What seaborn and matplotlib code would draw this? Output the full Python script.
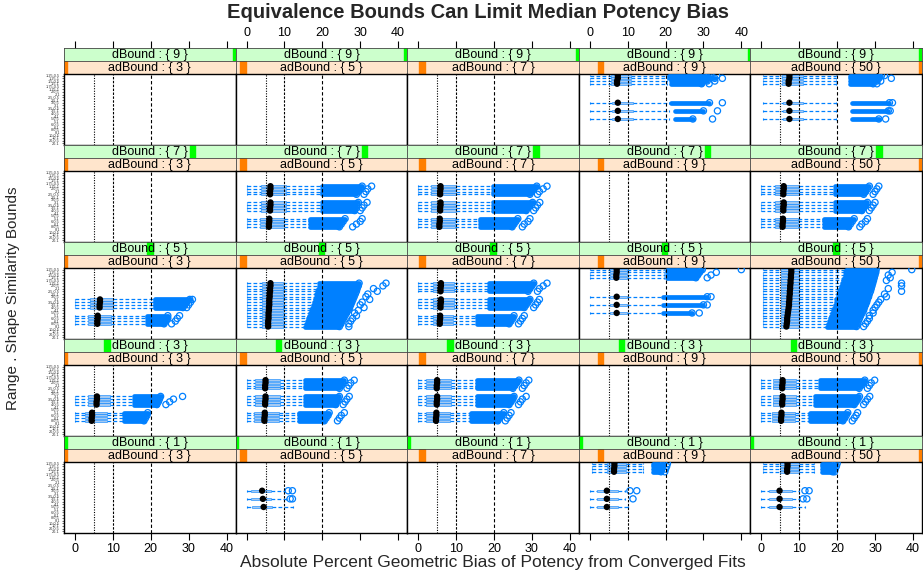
import numpy as np
import pandas as pd
import matplotlib
matplotlib.use("Agg")
import matplotlib.pyplot as plt
from matplotlib.patches import Rectangle
import seaborn as sns

sns.set_theme(style="white")
plt.rcParams['font.family'] = ['Liberation Sans', 'DejaVu Sans']
plt.rcParams['axes.edgecolor'] = 'black'
plt.rcParams['xtick.color'] = 'black'
plt.rcParams['ytick.color'] = 'black'

nan = np.nan

# ---------------- data ----------------
title = "Equivalence Bounds Can Limit Median Potency Bias"
x_label = "Absolute Percent Geometric Bias of Potency from Converged Fits"
y_label = "Range . Shape Similarity Bounds"

ad_bounds = [3, 5, 7, 9, 50]          # columns
d_bounds = [9, 7, 5, 3, 1]            # rows, top to bottom
x_ticks = [0, 10, 20, 30, 40]
ref_lines = [5, 10, 20]

range_bounds = ["1.25", "1.5", "1.75", "2", "2.5", "3", "3.5", "4", "5", "6", "8", "10", "20"]
shape_bounds = ["0.5", "1"]
categories = [f"{r}.{s}" for r in range_bounds for s in shape_bounds]  # 26 levels, top to bottom

# row tuples: (category index, whisker low, q1, median, q3, whisker high,
#              outlier band start, outlier band end, farthest outlier)
p_9_9 = [
    (0, 0, 5.5, 7.4, 11.0, 20.5, 21.0, 31.5, 33.5),
    (1, 0, 5.5, 7.4, 11.0, 20.5, 21.0, 33.0, 35.0),
    (2, 0, 5.5, 7.2, 11.0, 20.5, 21.5, 31.0, 33.0),
    (3, 0, 5.5, 7.2, 11.0, 20.5, 21.5, 29.5, 31.5),
    (10, 0, 5.8, 7.4, 11.3, 21.0, 21.5, 31.6, 35.0),
    (13, 0, 5.8, 7.4, 11.3, 21.0, 22.4, 30.0, 33.7),
    (16, 0, 5.8, 7.4, 11.3, 21.0, 22.4, 27.2, 32.4),
]
p_9_50 = [
    (0, 0.5, 5.5, 7.4, 11.0, 19.8, 23.3, 31.7, 32.5),
    (1, 0.5, 5.5, 7.4, 11.0, 19.8, 23.3, 31.0, 34.3),
    (2, 0.5, 5.5, 7.2, 11.0, 19.8, 23.5, 30.5, 31.5),
    (3, 0.5, 5.5, 7.2, 11.0, 19.8, 23.5, 29.5, 30.5),
    (10, 0.5, 5.8, 7.4, 11.0, 19.8, 23.8, 33.8, 34.6),
    (13, 0.5, 5.8, 7.4, 11.0, 19.8, 24.0, 33.5, 34.0),
    (16, 0.5, 5.8, 7.4, 11.0, 19.8, 24.0, 31.0, 32.8),
]
p_7_5 = [
    (5, 0, 3.7, 6.3, 10.3, 20.0, 20.0, 30.5, 33.0),
    (6, 0, 3.7, 6.3, 10.3, 20.0, 20.0, 30.0, 32.0),
    (7, 0, 3.7, 6.2, 10.3, 20.0, 20.0, 29.5, 31.5),
    (8, 0, 3.7, 6.2, 10.3, 20.0, 20.0, 29.0, 31.0),
    (11, 0, 3.7, 6.3, 10.3, 20.0, 20.0, 29.5, 31.8),
    (12, 0, 3.7, 6.3, 10.3, 20.0, 20.0, 29.0, 31.0),
    (13, 0, 3.7, 6.2, 10.3, 20.0, 20.0, 29.0, 30.5),
    (14, 0, 3.7, 6.2, 10.3, 20.0, 20.0, 28.5, 30.0),
    (17, 0, 3.5, 6.0, 10.0, 16.8, 16.8, 26.0, 30.5),
    (18, 0, 3.5, 6.0, 10.0, 16.8, 16.8, 25.5, 30.0),
    (19, 0, 3.5, 5.9, 10.0, 16.8, 16.8, 25.0, 29.0),
    (20, 0, 3.5, 5.9, 10.0, 16.8, 16.8, 24.5, 28.0),
]
p_7_7 = [
    (5, 0, 3.5, 5.9, 10.0, 19.7, 19.7, 31.3, 34.0),
    (6, 0, 3.5, 5.9, 10.0, 19.7, 19.7, 30.5, 33.0),
    (7, 0, 3.5, 5.8, 10.0, 19.7, 19.7, 30.0, 32.0),
    (8, 0, 3.5, 5.8, 10.0, 19.7, 19.7, 29.5, 31.5),
    (11, 0, 3.5, 5.9, 10.0, 19.7, 19.7, 30.2, 32.1),
    (12, 0, 3.5, 5.9, 10.0, 19.7, 19.7, 29.5, 31.5),
    (13, 0, 3.5, 5.8, 10.0, 19.7, 19.7, 29.0, 31.0),
    (14, 0, 3.5, 5.8, 10.0, 19.7, 19.7, 28.5, 30.5),
    (17, 0, 3.3, 5.7, 9.7, 16.2, 16.2, 26.3, 29.5),
    (18, 0, 3.3, 5.7, 9.7, 16.2, 16.2, 25.8, 29.0),
    (19, 0, 3.3, 5.6, 9.7, 16.2, 16.2, 25.3, 28.0),
    (20, 0, 3.3, 5.6, 9.7, 16.2, 16.2, 24.8, 27.5),
]
p_7_50 = [
    (5, 0, 3.7, 5.9, 10.0, 19.5, 19.5, 28.5, 31.0),
    (6, 0, 3.7, 5.9, 10.0, 19.5, 19.5, 28.0, 30.5),
    (7, 0, 3.7, 5.8, 10.0, 19.5, 19.5, 27.5, 30.0),
    (8, 0, 3.7, 5.8, 10.0, 19.5, 19.5, 27.0, 29.5),
    (11, 0, 3.7, 5.9, 10.0, 19.5, 19.5, 28.0, 30.0),
    (12, 0, 3.7, 5.9, 10.0, 19.5, 19.5, 27.5, 29.5),
    (13, 0, 3.7, 5.8, 10.0, 19.5, 19.5, 27.0, 29.0),
    (14, 0, 3.7, 5.8, 10.0, 19.5, 19.5, 26.5, 28.5),
    (17, 0, 3.5, 5.7, 9.7, 16.5, 16.5, 24.5, 28.0),
    (18, 0, 3.5, 5.7, 9.7, 16.5, 16.5, 24.0, 27.5),
    (19, 0, 3.5, 5.6, 9.7, 16.5, 16.5, 23.5, 26.5),
    (20, 0, 3.5, 5.6, 9.7, 16.5, 16.5, 23.0, 26.0),
]
p_5_3 = [
    (11, 0, 3.9, 6.6, 10.0, 20.5, 21.0, 30.3, 31.0),
    (12, 0, 3.9, 6.6, 10.0, 20.5, 21.0, 29.5, 30.5),
    (13, 0, 3.9, 6.5, 10.0, 20.5, 21.0, 29.0, 30.0),
    (14, 0, 3.9, 6.5, 10.0, 20.5, 21.0, 28.5, 29.5),
    (17, 0, 3.5, 6.0, 9.5, 19.2, 18.9, 24.5, 27.6),
    (18, 0, 3.5, 6.0, 9.5, 19.2, 18.9, 24.5, 27.0),
    (19, 0, 3.5, 5.9, 9.5, 19.2, 18.9, 24.0, 26.5),
    (20, 0, 3.5, 5.9, 9.5, 19.2, 18.9, 23.5, 25.5),
]
p_5_5 = [
    (5, 0, 4.0, 6.3, 9.5, 19.2, 19.2, 29.7, 36.8),
    (6, 0, 4.0, 6.3, 9.5, 19.0, 19.0, 29.5, 36.0),
    (7, 0, 4.0, 6.2, 9.5, 18.8, 18.8, 29.2, 33.5),
    (8, 0, 4.0, 6.2, 9.5, 18.6, 18.6, 29.0, 34.5),
    (9, 0, 4.0, 6.1, 9.5, 18.4, 18.4, 28.7, 32.0),
    (10, 0, 4.0, 6.1, 9.5, 18.2, 18.2, 28.4, 31.5),
    (11, 0, 4.0, 6.0, 9.5, 18.0, 18.0, 28.1, 32.5),
    (12, 0, 4.0, 6.0, 9.5, 17.8, 17.8, 27.8, 30.5),
    (13, 0, 4.0, 6.0, 9.5, 17.6, 17.6, 27.5, 30.0),
    (14, 0, 4.0, 5.9, 9.5, 17.4, 17.4, 27.2, 31.0),
    (15, 0, 4.0, 5.9, 9.5, 17.1, 17.1, 26.8, 29.5),
    (16, 0, 4.0, 5.8, 9.5, 16.8, 16.8, 26.4, 28.5),
    (17, 0, 4.0, 5.8, 9.5, 16.5, 16.5, 26.0, 29.0),
    (18, 0, 4.0, 5.8, 9.5, 16.2, 16.2, 25.6, 28.0),
    (19, 0, 4.0, 5.7, 9.5, 15.9, 15.9, 25.2, 27.5),
    (20, 0, 4.0, 5.7, 9.5, 15.6, 15.6, 24.9, 27.0),
    (21, 0, 4.0, 5.7, 9.5, 15.3, 15.3, 24.5, 27.0),
]
p_5_7 = [
    (5, 0, 4.0, 6.0, 9.5, 18.7, 18.7, 30.5, 34.0),
    (6, 0, 4.0, 6.0, 9.5, 18.7, 18.7, 30.0, 33.0),
    (7, 0, 4.0, 5.9, 9.5, 18.7, 18.7, 29.5, 32.0),
    (8, 0, 4.0, 5.9, 9.5, 18.7, 18.7, 29.0, 31.5),
    (11, 0, 4.0, 6.0, 9.5, 18.7, 18.7, 29.5, 32.0),
    (12, 0, 4.0, 6.0, 9.5, 18.7, 18.7, 29.0, 31.5),
    (13, 0, 4.0, 5.9, 9.5, 18.7, 18.7, 28.5, 31.0),
    (14, 0, 4.0, 5.9, 9.5, 18.7, 18.7, 28.0, 30.5),
    (17, 0, 3.8, 5.8, 9.3, 15.5, 15.5, 25.3, 28.0),
    (18, 0, 3.8, 5.8, 9.3, 15.5, 15.5, 25.0, 27.5),
    (19, 0, 3.8, 5.7, 9.3, 15.5, 15.5, 24.5, 27.0),
    (20, 0, 3.8, 5.7, 9.3, 15.5, 15.5, 24.0, 26.5),
]
p_5_9 = [
    (0, 0, 5.3, 7.1, 9.7, 19.7, 20.3, 29.7, 40.0),
    (1, 0, 5.3, 7.1, 9.7, 19.7, 20.3, 29.0, 33.4),
    (2, 0, 5.3, 7.0, 9.7, 19.7, 20.3, 28.5, 32.0),
    (3, 0, 5.3, 7.0, 9.7, 19.7, 20.3, 28.0, 31.0),
    (10, 0, 5.3, 7.1, 9.7, 19.2, 19.2, 31.0, 32.0),
    (13, 0, 5.3, 7.1, 9.7, 19.2, 19.2, 30.0, 31.0),
    (16, 0, 5.3, 7.1, 9.7, 19.2, 19.2, 27.0, 28.9),
]
p_5_50 = [
    (0, 0.3, 5.3, 7.9, 10.0, 22.4, 22.4, 30.3, 39.7),
    (1, 0.3, 5.3, 7.9, 10.0, 22.2, 22.2, 30.2, 34.5),
    (2, 0.3, 5.3, 7.8, 10.0, 22.0, 22.0, 30.0, 33.5),
    (3, 0.3, 5.3, 7.8, 10.0, 21.8, 21.8, 29.8, 34.0),
    (4, 0.3, 5.3, 7.7, 10.0, 21.5, 21.5, 29.6, 33.0),
    (5, 0.3, 5.3, 7.7, 10.0, 21.3, 21.3, 29.4, 37.0),
    (6, 0.3, 5.3, 7.6, 10.0, 21.0, 21.0, 29.2, 37.0),
    (7, 0.3, 5.3, 7.6, 10.0, 20.8, 20.8, 29.0, 33.5),
    (8, 0.3, 5.3, 7.5, 10.0, 20.6, 20.6, 28.8, 37.0),
    (9, 0.3, 5.3, 7.5, 10.0, 20.3, 20.3, 28.5, 32.5),
    (10, 0.3, 5.3, 7.4, 10.0, 20.1, 20.1, 28.3, 33.0),
    (11, 0.3, 5.3, 7.4, 10.0, 19.8, 19.8, 28.0, 31.5),
    (12, 0.3, 5.3, 7.3, 10.0, 19.6, 19.6, 27.8, 31.0),
    (13, 0.3, 5.3, 7.3, 10.0, 19.4, 19.4, 27.5, 30.5),
    (14, 0.3, 5.3, 7.2, 10.0, 19.2, 19.2, 27.2, 30.0),
    (15, 0.3, 5.3, 7.1, 10.0, 18.9, 18.9, 27.0, 29.5),
    (16, 0.3, 5.3, 7.0, 10.0, 18.7, 18.7, 26.6, 29.5),
    (17, 0.3, 5.3, 6.9, 10.0, 18.4, 18.4, 26.2, 28.5),
    (18, 0.3, 5.3, 6.8, 10.0, 18.1, 18.1, 25.9, 28.5),
    (19, 0.3, 5.3, 6.8, 10.0, 17.8, 17.8, 25.6, 28.0),
    (20, 0.3, 5.3, 6.7, 10.0, 17.6, 17.6, 25.3, 27.5),
    (21, 0.3, 5.3, 6.6, 10.0, 17.4, 17.4, 25.1, 27.0),
]
p_3_3 = [
    (11, 0, 3.4, 5.8, 9.2, 15.5, 15.5, 22.6, 28.4),
    (12, 0, 3.4, 5.8, 9.2, 15.5, 15.5, 22.3, 26.0),
    (13, 0, 3.4, 5.7, 9.2, 15.5, 15.5, 22.0, 25.0),
    (14, 0, 3.4, 5.7, 9.2, 15.5, 15.5, 21.6, 24.0),
    (17, 0, 2.6, 4.5, 8.4, 12.9, 12.9, 19.2, nan),
    (18, 0, 2.6, 4.5, 8.4, 12.9, 12.9, 19.0, nan),
    (19, 0, 2.6, 4.4, 8.4, 12.9, 12.9, 18.6, nan),
    (20, 0, 2.6, 4.4, 8.4, 12.9, 12.9, 18.2, nan),
]
p_3_5 = [
    (5, 0, 2.1, 5.0, 8.7, 15.5, 15.5, 25.8, 28.4),
    (6, 0, 2.1, 5.0, 8.7, 15.5, 15.5, 25.3, 27.5),
    (7, 0, 2.1, 4.9, 8.7, 15.5, 15.5, 25.0, 27.0),
    (8, 0, 2.1, 4.9, 8.7, 15.5, 15.5, 24.5, 26.5),
    (11, 0, 2.1, 5.0, 8.7, 15.5, 15.5, 24.5, 27.1),
    (12, 0, 2.1, 5.0, 8.7, 15.5, 15.5, 24.2, 26.5),
    (13, 0, 2.1, 4.9, 8.7, 15.5, 15.5, 23.8, 26.0),
    (14, 0, 2.1, 4.9, 8.7, 15.5, 15.5, 23.5, 25.5),
    (17, 0, 2.0, 4.8, 8.5, 13.9, 13.9, 21.8, 25.8),
    (18, 0, 2.0, 4.8, 8.5, 13.9, 13.9, 21.5, 25.0),
    (19, 0, 2.0, 4.7, 8.5, 13.9, 13.9, 21.0, 24.5),
    (20, 0, 2.0, 4.7, 8.5, 13.9, 13.9, 20.5, 24.0),
]
p_3_7 = [
    (5, 0, 2.1, 5.0, 8.7, 15.5, 15.5, 26.6, 29.2),
    (6, 0, 2.1, 5.0, 8.7, 15.5, 15.5, 26.0, 28.5),
    (7, 0, 2.1, 4.9, 8.7, 15.5, 15.5, 25.5, 28.0),
    (8, 0, 2.1, 4.9, 8.7, 15.5, 15.5, 25.0, 27.5),
    (11, 0, 2.1, 5.0, 8.7, 15.5, 15.5, 25.3, 28.5),
    (12, 0, 2.1, 5.0, 8.7, 15.5, 15.5, 25.0, 27.5),
    (13, 0, 2.1, 4.9, 8.7, 15.5, 15.5, 24.5, 27.0),
    (14, 0, 2.1, 4.9, 8.7, 15.5, 15.5, 24.0, 26.5),
    (17, 0, 2.0, 4.8, 8.5, 14.0, 14.0, 22.6, 24.5),
    (18, 0, 2.0, 4.8, 8.5, 14.0, 14.0, 22.0, 24.0),
    (19, 0, 2.0, 4.7, 8.5, 14.0, 14.0, 21.5, 23.5),
    (20, 0, 2.0, 4.7, 8.5, 14.0, 14.0, 21.0, 23.0),
]
p_3_50 = [
    (5, 0, 3.0, 5.6, 9.2, 15.4, 15.4, 27.3, 29.9),
    (6, 0, 3.0, 5.6, 9.2, 15.4, 15.4, 26.8, 29.0),
    (7, 0, 3.0, 5.5, 9.2, 15.4, 15.4, 26.3, 28.5),
    (8, 0, 3.0, 5.5, 9.2, 15.4, 15.4, 25.8, 28.0),
    (11, 0, 3.0, 5.6, 9.2, 14.1, 14.1, 25.9, 28.6),
    (12, 0, 3.0, 5.6, 9.2, 14.1, 14.1, 25.5, 28.0),
    (13, 0, 3.0, 5.5, 9.2, 14.1, 14.1, 25.0, 27.5),
    (14, 0, 3.0, 5.5, 9.2, 14.1, 14.1, 24.5, 27.0),
    (17, 0, 2.8, 5.3, 9.0, 12.8, 12.8, 22.8, 25.4),
    (18, 0, 2.8, 5.3, 9.0, 12.8, 12.8, 22.4, 25.0),
    (19, 0, 2.8, 5.2, 9.0, 12.8, 12.8, 22.0, 24.5),
    (20, 0, 2.8, 5.2, 9.0, 12.8, 12.8, 21.5, 24.0),
]
p_1_5 = [
    (10, 0, 1.2, 4.1, 6.5, 10.0, nan, 11.0, 12.1),
    (13, 0, 1.2, 4.3, 6.5, 10.5, nan, 11.5, 12.1),
    (16, 0, 1.5, 4.5, 6.8, 12.3, nan, nan, nan),
]
p_1_9 = [
    (0, 0.5, 4.5, 6.5, 9.5, 14.0, 16.6, 19.5, 20.5),
    (1, 0.5, 4.5, 6.5, 9.5, 14.0, 16.6, 19.3, 20.3),
    (2, 0.5, 4.5, 6.4, 9.5, 14.0, 16.6, 19.0, 20.0),
    (3, 0.5, 4.5, 6.4, 9.5, 14.0, 16.6, 18.8, 19.8),
    (10, 0, 2.0, 4.5, 7.5, 9.3, nan, 10.6, 12.4),
    (13, 0, 2.0, 4.5, 7.5, 9.3, nan, 11.4, nan),
    (16, 0, 2.0, 4.5, 7.5, 10.0, nan, nan, nan),
]
p_1_50 = [
    (0, 0.5, 4.8, 6.9, 10.0, 14.0, 15.9, 19.5, 20.0),
    (1, 0.5, 4.8, 6.9, 10.0, 14.0, 15.9, 19.3, 19.8),
    (2, 0.5, 4.8, 6.8, 10.0, 14.0, 15.9, 19.0, 19.5),
    (3, 0.5, 4.8, 6.8, 10.0, 14.0, 15.9, 18.8, 19.3),
    (10, 0, 2.0, 4.8, 8.0, 10.0, nan, 11.5, 12.6),
    (13, 0, 2.0, 4.8, 8.0, 10.0, nan, 11.0, 12.0),
    (16, 0, 2.0, 4.8, 8.0, 11.5, nan, nan, nan),
]

panels = {
    (9, 9): p_9_9, (9, 50): p_9_50,
    (7, 5): p_7_5, (7, 7): p_7_7, (7, 50): p_7_50,
    (5, 3): p_5_3, (5, 5): p_5_5, (5, 7): p_5_7, (5, 9): p_5_9, (5, 50): p_5_50,
    (3, 3): p_3_3, (3, 5): p_3_5, (3, 7): p_3_7, (3, 50): p_3_50,
    (1, 5): p_1_5, (1, 9): p_1_9, (1, 50): p_1_50,
}
columns = ["cat", "lo", "q1", "med", "q3", "hi", "fs", "fe", "out"]

# ---------------- style ----------------
BLUE = "#0080ff"
BOXFILL = "#a3c9f2"
D_BG, D_BAR = "#ccffcc", "#00ff00"
A_BG, A_BAR = "#ffe5cc", "#ff7f00"
XLIM = (-2.9, 42.4)
N = len(categories)

W, H = 923, 571
fig = plt.figure(figsize=(W / 100, H / 100), dpi=100)


def rect(left, top, w, h):
    return [left / W, 1 - (top + h) / H, w / W, h / H]


COL_W = 171.6
ROW_STEP = 97


def strip(ax, label, frac, bg, bar):
    ax.set_facecolor(bg)
    ax.set_xlim(*XLIM)
    ax.set_ylim(0, 1)
    ax.set_yticks([])
    ax.set_xticks([])
    ax.add_patch(Rectangle((frac - 0.016, 0), 0.032, 1, transform=ax.transAxes,
                           color=bar, clip_on=True, zorder=1))
    ax.text(0.5, 0.46, label, transform=ax.transAxes, ha="center", va="center",
            fontsize=9, color="black", zorder=2)
    for sp in ax.spines.values():
        sp.set_linewidth(0.6)
        sp.set_color("#444444")


def draw_panel(ax, rows):
    df = pd.DataFrame(rows, columns=columns)
    if df.empty:
        return
    y = df["cat"].to_numpy(float)
    dash = (0, (3.0, 1.8))
    ax.hlines(y, df["lo"], df["q1"], colors=BLUE, lw=0.9, linestyles=dash, zorder=2)
    ax.hlines(y, df["q3"], df["hi"], colors=BLUE, lw=0.9, linestyles=dash, zorder=2)
    ax.vlines(df["lo"], y - 0.3, y + 0.3, colors=BLUE, lw=0.8, zorder=2)
    ax.vlines(df["hi"], y - 0.3, y + 0.3, colors=BLUE, lw=0.8, zorder=2)
    ax.barh(y, df["q3"] - df["q1"], left=df["q1"], height=0.8, color=BOXFILL,
            edgecolor=BLUE, linewidth=0.4, zorder=3)
    band = df.dropna(subset=["fs"])
    if len(band):
        lc = ax.hlines(band["cat"], band["fs"], band["fe"], colors=BLUE, lw=3.4, zorder=4)
        lc.set_capstyle("round")
    circ = pd.concat([
        df[["cat", "fe"]].rename(columns={"fe": "x"}),
        df[["cat", "out"]].rename(columns={"out": "x"}),
    ]).dropna()
    if len(circ):
        ax.scatter(circ["x"], circ["cat"], s=20, facecolors="none",
                   edgecolors=BLUE, linewidths=0.9, zorder=5)
    sns.scatterplot(data=df, x="med", y="cat", color="black", s=21,
                    edgecolor="none", ax=ax, legend=False, zorder=7)


for r, d in enumerate(d_bounds):
    for c, a in enumerate(ad_bounds):
        left = 64 + c * COL_W
        top = 48 + r * ROW_STEP
        s1 = fig.add_axes(rect(left, top, COL_W, 13))
        strip(s1, f"dBound : {{ {d} }}", (d - min(d_bounds)) / (max(d_bounds) - min(d_bounds)),
              D_BG, D_BAR)
        s2 = fig.add_axes(rect(left, top + 13, COL_W, 13))
        strip(s2, f"adBound : {{ {a} }}", (a - min(ad_bounds)) / (max(ad_bounds) - min(ad_bounds)),
              A_BG, A_BAR)
        if r == 0:
            s1.set_xticks(x_ticks)
            s1.xaxis.tick_top()
            s1.tick_params(axis="x", top=True, bottom=False, direction="out",
                           length=5, width=0.8, labelsize=9, pad=1.5,
                           labeltop=(c % 2 == 1))

        ax = fig.add_axes(rect(left, top + 26, COL_W, 71))
        ax.set_facecolor("white")
        draw_panel(ax, panels.get((d, a), []))
        for xv, ls in zip(ref_lines, [(0, (1, 1.3)), (0, (2.2, 1.3)), (0, (3, 2))]):
            ax.axvline(xv, color="black", lw=0.8, ls=ls, zorder=6)
        ax.set_xlim(*XLIM)
        ax.set_ylim(N - 0.4, -0.6)
        ax.set_xlabel("")
        ax.set_ylabel("")
        if c == 0:
            ax.set_yticks(range(N))
            ax.set_yticklabels(categories, fontsize=2.8, color="#333333")
            ax.tick_params(axis="y", left=True, length=1.5, width=0.4, pad=1.5)
        else:
            ax.set_yticks([])
        if r == len(d_bounds) - 1:
            ax.set_xticks(x_ticks)
            ax.tick_params(axis="x", bottom=True, direction="out", length=5,
                           width=0.8, labelsize=9, pad=2,
                           labelbottom=(c % 2 == 0))
        else:
            ax.set_xticks([])
        for sp in ax.spines.values():
            sp.set_linewidth(1.0)
            sp.set_color("black")

fig.text(478 / W, 1 - 12 / H, title, ha="center", va="center",
         fontsize=14.5, fontweight="bold")
fig.text(493 / W, 1 - 563 / H, x_label, ha="center", va="center", fontsize=12.5)
fig.text(13 / W, 1 - 298 / H, y_label, ha="center", va="center", rotation=90,
         fontsize=11)

fig.savefig("out.png", dpi=100)
